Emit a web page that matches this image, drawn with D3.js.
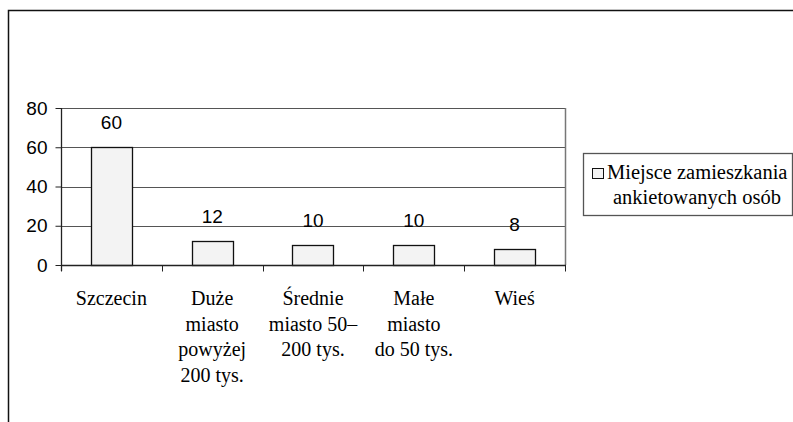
<!DOCTYPE html>
<html>
<head>
<meta charset="utf-8">
<script src="https://cdn.jsdelivr.net/npm/d3@7"></script>
<style>
body{margin:0;background:#fff;}
svg{display:block;}
</style>
</head>
<body>
<div id="chart"></div>
<script>
// dane
var categories = ['Szczecin', 'Duże miasto powyżej 200 tys.', 'Średnie miasto 50–200 tys.', 'Małe miasto do 50 tys.', 'Wieś'];
var catLines = [['Szczecin'], ['Duże', 'miasto', 'powyżej', '200 tys.'], ['Średnie', 'miasto 50–', '200 tys.'], ['Małe', 'miasto', 'do 50 tys.'], ['Wieś']];
var values = [60, 12, 10, 10, 8];
var yTicks = [0, 20, 40, 60, 80];
var seriesName = ['Miejsce zamieszkania', 'ankietowanych osób'];

var SANS = '"Liberation Sans"';
var SERIF = '"Liberation Serif"';

var W = 793, H = 422;
var plot = {l:61, r:565, t:108, b:265};

var svg = d3.select('#chart').append('svg')
	.attr('width', W)
	.attr('height', H);

// outer frame
svg.append('rect')
	.attr('x', 8.5).attr('y', 10.5)
	.attr('width', 820).attr('height', 440)
	.attr('fill', 'none')
	.attr('stroke', '#111')
	.attr('stroke-width', 1.5);

var x = d3.scaleBand().domain(categories).range([plot.l, plot.r]).paddingInner(0).paddingOuter(0);
var y = d3.scaleLinear().domain([0, 80]).range([plot.b, plot.t]);

// gridlines
svg.selectAll('.grid')
	.data(yTicks.filter(function(d){ return d > 0; }))
	.enter().append('line')
	.attr('class', 'grid')
	.attr('x1', plot.l).attr('x2', plot.r)
	.attr('y1', function(d){ return Math.round(y(d)) + 0.5; })
	.attr('y2', function(d){ return Math.round(y(d)) + 0.5; })
	.attr('stroke', '#555')
	.attr('stroke-width', 1);

// right border of plot area
svg.append('line')
	.attr('x1', plot.r + 0.5).attr('x2', plot.r + 0.5)
	.attr('y1', plot.t).attr('y2', plot.b)
	.attr('stroke', '#777').attr('stroke-width', 1.5);

// bars
var bw = x.bandwidth() * 0.41;
svg.selectAll('.bar')
	.data(values)
	.enter().append('rect')
	.attr('class', 'bar')
	.attr('x', function(d, i){ return Math.round(x(categories[i]) + x.bandwidth()/2 - bw/2) + 0.5; })
	.attr('y', function(d){ return Math.round(y(d)) + 0.5; })
	.attr('width', Math.round(bw))
	.attr('height', function(d){ return Math.round(y(0)) - Math.round(y(d)); })
	.attr('fill', '#f3f3f3')
	.attr('stroke', '#111')
	.attr('stroke-width', 1.3);

// value labels
svg.selectAll('.val')
	.data(values)
	.enter().append('text')
	.attr('class', 'val')
	.attr('x', function(d, i){ return x(categories[i]) + x.bandwidth()/2; })
	.attr('y', function(d){ return y(d) - 18; })
	.attr('text-anchor', 'middle')
	.style('font-family', SANS)
	.style('font-size', '19px')
	.text(function(d){ return d; });

// y axis
var yAxis = svg.append('g')
	.attr('transform', 'translate(' + (plot.l + 0.5) + ',0)')
	.call(d3.axisLeft(y).tickValues(yTicks).tickSize(6).tickPadding(8));
yAxis.select('.domain').attr('stroke', '#222').attr('stroke-width', 1.3)
	.attr('d', 'M0,' + plot.t + 'V' + (plot.b + 6));
yAxis.selectAll('.tick line').attr('stroke', '#222');
yAxis.selectAll('.tick text')
	.style('font-family', SANS)
	.style('font-size', '19px')
	.attr('fill', '#000');

// x axis
var xAxis = svg.append('g')
	.attr('transform', 'translate(0,' + (plot.b + 0.5) + ')');
xAxis.append('line')
	.attr('x1', plot.l).attr('x2', plot.r + 1)
	.attr('stroke', '#222').attr('stroke-width', 1.3);
var bounds = categories.map(function(c){ return x(c); }).concat([plot.r]);
xAxis.selectAll('.xt')
	.data(bounds)
	.enter().append('line')
	.attr('class', 'xt')
	.attr('x1', function(d){ return Math.round(d) + 0.5; })
	.attr('x2', function(d){ return Math.round(d) + 0.5; })
	.attr('y1', 0).attr('y2', 6)
	.attr('stroke', '#222');

// category labels, one text per line
categories.forEach(function(c, i){
	svg.selectAll('.cat' + i)
		.data(catLines[i])
		.enter().append('text')
		.attr('class', 'cat' + i)
		.attr('x', x(c) + x.bandwidth()/2)
		.attr('y', function(d, j){ return 305 + j * 25.5; })
		.attr('text-anchor', 'middle')
		.style('font-family', SERIF)
		.style('font-size', '20px')
		.attr('fill', '#000')
		.text(function(d){ return d; });
});

// legend
var leg = svg.append('g');
leg.append('rect')
	.attr('x', 583.5).attr('y', 153.5)
	.attr('width', 209).attr('height', 62)
	.attr('fill', '#fff')
	.attr('stroke', '#555').attr('stroke-width', 1.3);
leg.append('rect')
	.attr('x', 592.5).attr('y', 168.5)
	.attr('width', 11).attr('height', 10)
	.attr('fill', '#f3f3f3')
	.attr('stroke', '#111').attr('stroke-width', 1);
leg.append('text')
	.attr('x', 607).attr('y', 179)
	.style('font-family', SERIF)
	.style('font-size', '20.5px')
	.text(seriesName[0]);
leg.append('text')
	.attr('x', 697).attr('y', 204)
	.attr('text-anchor', 'middle')
	.style('font-family', SERIF)
	.style('font-size', '20.5px')
	.text(seriesName[1]);
</script>
</body>
</html>
